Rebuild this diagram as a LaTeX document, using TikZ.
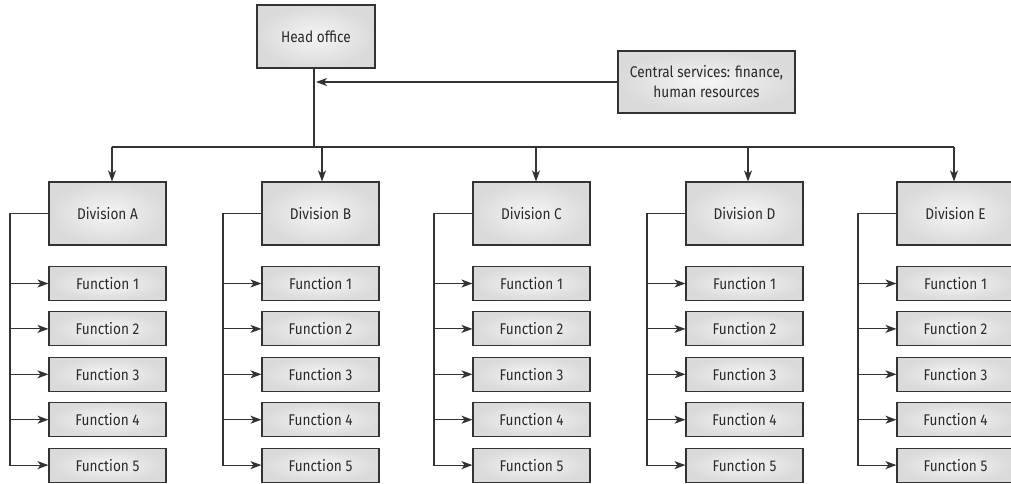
\documentclass[tikz,border=0pt]{standalone}
\usepackage{fontspec}
\setmainfont{Fira Sans}[FakeStretch=0.88]
\usetikzlibrary{arrows.meta}
\definecolor{edge}{HTML}{333333}
\definecolor{boxin}{HTML}{F5F5F5}
\definecolor{boxout}{HTML}{DADADA}
\definecolor{txt}{HTML}{2A2A2A}
\begin{document}
\begin{tikzpicture}[x=1pt,y=-1pt,
  box/.style={draw=edge, line width=1.1pt, inner color=boxin, outer color=boxout,
    rectangle, inner sep=0pt, text=txt, font=\fontsize{15.5}{20}\selectfont, align=center},
  divbox/.style={box, minimum width=117pt, minimum height=63pt},
  funbox/.style={box, minimum width=117pt, minimum height=34pt},
  conn/.style={draw=edge, line width=1.1pt},
  arr/.style={conn, -{Stealth[length=11pt,width=8pt,inset=3pt]}}]
\clip (0,0) rectangle (1011,483);
\node[box, minimum width=118pt, minimum height=63pt] (head) at (316,36.5) {Head office};
\node[box, minimum width=177pt, minimum height=62pt] (cs) at (706.5,82) {Central services: finance,\\human resources};
\coordinate (hx) at (314,147);
\draw[conn] (hx |- head.south) -- (hx);
\draw[arr, shorten >=2pt] (cs.west) -- (cs.west -| hx);
\foreach \L/\o/\n in {49/63/A, 262/60/B, 473/63/C, 686/62/D, 897/57/E} {
  \node[divbox] (div\n) at (\L+58.5, 213.5) {Division \n};
  \coordinate (top\n) at (\L+\o, 147);
  \draw[arr] (top\n) -- (top\n |- div\n.north);
  \coordinate (br\n) at (\L-39, 213.5);
  \foreach \k in {1,...,5} {
    \node[funbox] (f\n\k) at (\L+58.5, {283.5+45.4*(\k-1)}) {Function \k};
  }
  \foreach \k in {1,...,4} {
    \draw[arr] (br\n |- f\n\k.west) -- (f\n\k.west);
  }
  \draw[arr] (div\n.west) -- (br\n) -- (br\n |- f\n5.west) -- (f\n5.west);
}
\draw[conn] (topA) -- (topE);
\end{tikzpicture}
\end{document}
